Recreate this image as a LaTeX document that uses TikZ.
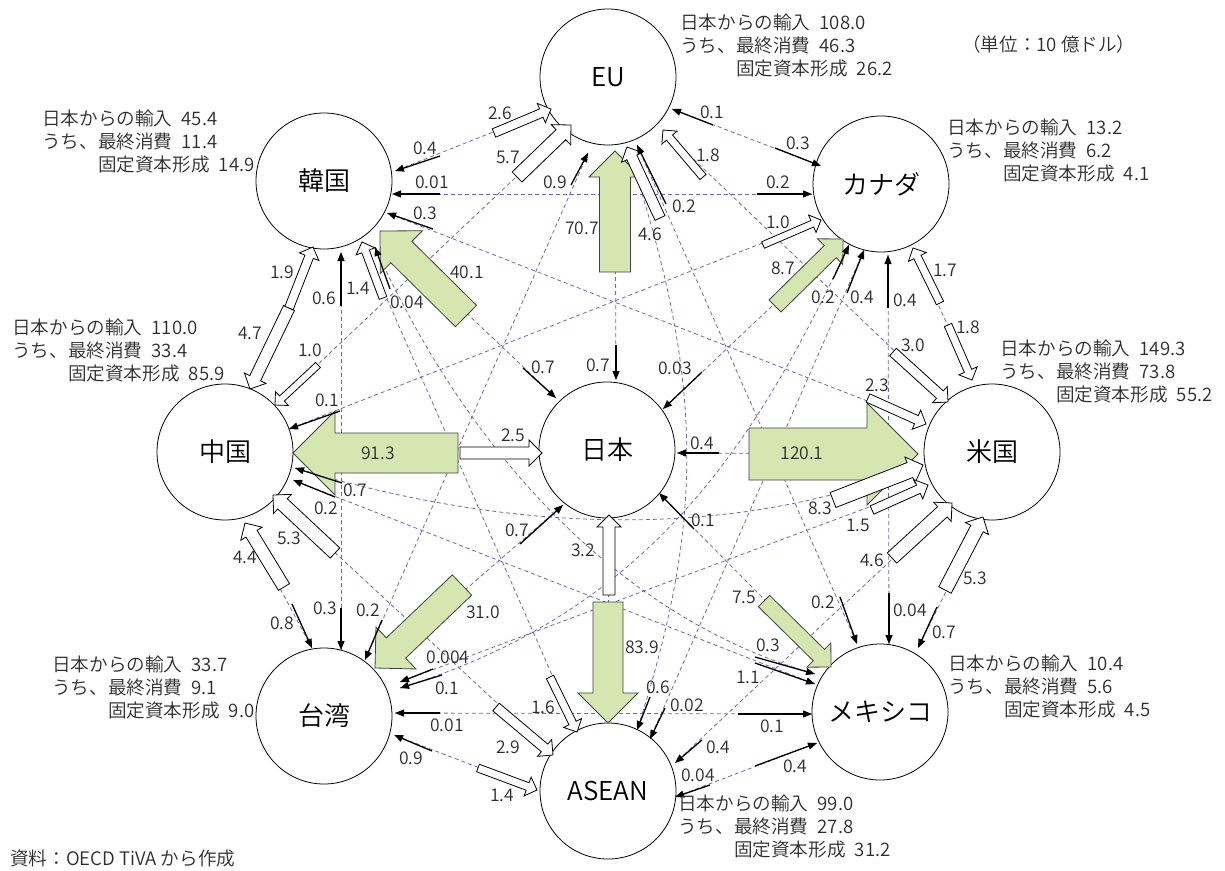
\documentclass[tikz,border=0pt]{standalone}
\usepackage{fontspec}
\IfFontExistsTF{Noto Sans CJK JP DemiLight}{\setmainfont{Noto Sans CJK JP DemiLight}}{\setmainfont{Noto Sans CJK JP}}
\usetikzlibrary{calc,arrows.meta,backgrounds}
\definecolor{dashblue}{RGB}{112,104,192}
\definecolor{gfill}{RGB}{214,230,176}
\definecolor{txt}{RGB}{45,45,45}
% block arrow: name, style, tail, tip, shaft half width, head half width (= head length)
\newcommand{\blockflow}[6]{%
  \coordinate (#1-s) at (#3);
  \coordinate (#1-e) at (#4);
  \coordinate (#1-h) at ($(#1-e)!#6pt!(#1-s)$);
  \draw[#2] ($(#1-s)!#5pt!90:(#1-e)$) -- ($(#1-h)!#5pt!90:(#1-e)$) -- ($(#1-h)!#6pt!90:(#1-e)$) -- (#1-e)
     -- ($(#1-h)!#6pt!-90:(#1-e)$) -- ($(#1-h)!#5pt!-90:(#1-e)$) -- ($(#1-s)!#5pt!-90:(#1-e)$) -- cycle;}
% thin arrow: name, tail, tip
\newcommand{\lineflow}[3]{%
  \coordinate (#1-s) at (#2);
  \coordinate (#1-e) at (#3);
  \draw[blk] (#1-s) -- (#1-e);}
\newcommand{\flowlabel}[3]{\node[lbl] (#1-l) at (#2) {#3};}
% info block: name, x, baseline y, v1, v2, v3
\newcommand{\infoblock}[6]{%
  \node[info] (#1-a) at (#2,#3) {日本からの輸入\hspace{0.5em}#4};
  \node[info] (#1-b) at (#2,#3+23) {うち、最終消費\hspace{0.5em}#5};
  \node[info] (#1-c) at (#2,#3+46) {\phantom{うち、}固定資本形成\hspace{0.5em}#6};}
\begin{document}
\begin{tikzpicture}[x=1pt,y=-1pt,
  cnode/.style={circle,draw=black,fill=white,line width=0.8pt,minimum size=136pt,inner sep=0pt,
    font=\fontsize{26}{30}\selectfont},
  dl/.style={draw=dashblue,line width=0.8pt,dash pattern=on 4pt off 3pt},
  blk/.style={draw=black,line width=1.3pt,-{Triangle[length=9pt,width=7pt]}},
  warr/.style={draw=black,fill=white,line width=0.8pt,line join=miter},
  garr/.style={draw=black!75,fill=gfill,line width=0.8pt,line join=miter},
  lbl/.style={font=\fontsize{17.5}{20}\selectfont,inner sep=0pt,text=txt},
  info/.style={font=\fontsize{18.6}{22}\selectfont,inner sep=0pt,anchor=base west,text=txt}]
\useasboundingbox (0,0) rectangle (1225,870);
\begin{pgfonlayer}{background}
\fill[white] (0,0) rectangle (1225,870);
\end{pgfonlayer}

% ---------------- country circles
\node[cnode] (EU) at (608,77) {EU};
\node[cnode] (CA) at (881,184) {カナダ};
\node[cnode] (US) at (992,452) {米国};
\node[cnode] (MX) at (880,712) {メキシコ};
\node[cnode] (AS) at (608,791) {ASEAN};
\node[cnode] (TW) at (324,716) {台湾};
\node[cnode] (CN) at (225,452) {中国};
\node[cnode] (KR) at (324,181) {韓国};
\node[cnode] (JP) at (607,450) {日本};

% ---------------- green arrows (from Japan)
\blockflow{jp2eu}{garr}{615,272}{615,151}{15.5}{26}
\blockflow{jp2kr}{garr}{466,316}{380,231}{15}{30}
\blockflow{jp2cn}{garr}{458,453}{293,453}{20}{42}
\blockflow{jp2tw}{garr}{462,585}{375,668}{14}{29}
\blockflow{jp2as}{garr}{608,602}{608,723}{15}{30}
\blockflow{jp2mx}{garr}{764,601}{831,667}{8}{17}
\blockflow{jp2us}{garr}{749,454}{918,454}{26}{51}
\blockflow{jp2ca}{garr}{775,306}{843,239}{8.5}{18}

% ---------------- white block arrows
\blockflow{kr2eu}{warr}{494,133}{551,109}{4.5}{10.5}
\blockflow{cn2eu}{warr}{517,177}{571,125}{7}{14}
\blockflow{as2eu}{warr}{660,218}{627,147}{5.5}{11.5}
\blockflow{us2eu}{warr}{703,177}{663,130}{4}{10}
\blockflow{cn2ca}{warr}{763,245}{821,220}{3.5}{9.5}
\blockflow{us2ca}{warr}{940,303}{913,248}{4}{10}
\blockflow{ca2us}{warr}{948,325}{972,380}{4}{10}
\blockflow{eu2us}{warr}{893,352}{948,402}{5}{11}
\blockflow{kr2us}{warr}{868,398}{926,424}{4.5}{10.5}
\blockflow{cn2us}{warr}{833,500}{923,465}{8}{14}
\blockflow{tw2us}{warr}{872,510}{928,485}{4.5}{10.5}
\blockflow{as2us}{warr}{892,558}{952,503}{7}{13}
\blockflow{mx2us}{warr}{945,590}{983,517}{7}{13}
\blockflow{kr2as}{warr}{550,677}{577,732}{4}{10}
\blockflow{cn2as}{warr}{496,707}{553,755}{5}{11}
\blockflow{tw2as}{warr}{478,768}{537,790}{4}{10}
\blockflow{kr2cn}{warr}{289,308}{250,389}{6}{12}
\blockflow{eu2cn}{warr}{318,365}{275,405}{3.5}{9.5}
\blockflow{as2cn}{warr}{335,553}{273,495}{7}{13}
\blockflow{tw2cn}{warr}{284,587}{245,523}{6.5}{12.5}
\blockflow{as2kr}{warr}{383,298}{362,242}{4}{10}
\blockflow{cn2kr}{warr}{289,308}{313,247}{4.5}{10.5}
\blockflow{as2jp}{warr}{609,595}{609,515}{6}{12}
\blockflow{cn2jp}{warr}{460,453}{542,453}{6}{13}

% ---------------- thin arrows
\lineflow{tw2eu}{571,185}{588,153}
\lineflow{mx2eu}{666,204}{637,145}
\lineflow{ca2eu}{713,125}{672,109}
\lineflow{eu2kr}{440,156}{395,171}
\lineflow{ca2kr}{440,194}{392,194}
\lineflow{us2kr}{433,229}{387,213}
\lineflow{mx2kr}{390,289}{375,247}
\lineflow{tw2kr}{341,306}{341,252}
\lineflow{eu2ca}{775,148}{821,166}
\lineflow{kr2ca}{757,194}{812,194}
\lineflow{tw2ca}{833,279}{849,245}
\lineflow{as2ca}{847,293}{864,250}
\lineflow{mx2ca}{888,308}{888,255}
\lineflow{eu2jp}{616,345}{616,380}
\lineflow{kr2jp}{523,368}{556,398}
\lineflow{ca2jp}{702,372}{663,409}
\lineflow{us2jp}{719,453}{677,453}
\lineflow{mx2jp}{694,529}{659,493}
\lineflow{tw2jp}{520,544}{563,505}
\lineflow{ca2cn}{340,411}{289,429}
\lineflow{us2cn}{342,483}{295,468}
\lineflow{mx2cn}{335,497}{293,480}
\lineflow{cn2tw}{292,604}{312,648}
\lineflow{kr2tw}{341,608}{341,650}
\lineflow{eu2tw}{382,620}{365,660}
\lineflow{us2tw}{433,669}{400,682}
\lineflow{ca2tw}{442,675}{400,688}
\lineflow{mx2tw}{440,713}{395,713}
\lineflow{as2tw}{432,751}{394,735}
\lineflow{eu2as}{650,697}{637,730}
\lineflow{ca2as}{665,708}{650,739}
\lineflow{us2as}{702,740}{675,763}
\lineflow{mx2as}{710,785}{675,797}
\lineflow{kr2mx}{755,657}{815,674}
\lineflow{cn2mx}{755,663}{815,684}
\lineflow{tw2mx}{738,714}{812,714}
\lineflow{as2mx}{755,766}{817,743}
\lineflow{eu2mx}{840,597}{857,644}
\lineflow{ca2mx}{889,593}{889,644}
\lineflow{us2mx}{937,607}{918,648}

% ---------------- dashed links (background)
\begin{pgfonlayer}{background}
\draw[dl] (ca2eu-e) -- (eu2ca-e);
\draw[dl] (us2eu-e) -- (eu2us-e);
\draw[dl] (mx2eu-e) -- (eu2mx-e);
\draw[dl] (as2eu-e) .. controls (705,380) and (705,520) .. (eu2as-e);
\draw[dl] (tw2eu-e) -- (eu2tw-e);
\draw[dl] (cn2eu-e) -- (eu2cn-e);
\draw[dl] (kr2eu-e) -- (eu2kr-e);
\draw[dl] (jp2eu-e) -- (eu2jp-e);
\draw[dl] (us2ca-e) -- (ca2us-e);
\draw[dl] (mx2ca-e) -- (ca2mx-e);
\draw[dl] (as2ca-e) -- (ca2as-e);
\draw[dl] (tw2ca-e) .. controls (755,445) and (650,611) .. (ca2tw-e);
\draw[dl] (cn2ca-e) -- (ca2cn-e);
\draw[dl] (kr2ca-e) -- (ca2kr-e);
\draw[dl] (jp2ca-e) -- (ca2jp-e);
\draw[dl] (mx2us-e) -- (us2mx-e);
\draw[dl] (as2us-e) -- (us2as-e);
\draw[dl] (tw2us-e) -- (us2tw-e);
\draw[dl] (cn2us-e) .. controls (723,545) and (500,530) .. (us2cn-e);
\draw[dl] (kr2us-e) -- (us2kr-e);
\draw[dl] (jp2us-e) -- (us2jp-e);
\draw[dl] (as2mx-e) -- (mx2as-e);
\draw[dl] (tw2mx-e) -- (mx2tw-e);
\draw[dl] (cn2mx-e) -- (mx2cn-e);
\draw[dl] (kr2mx-e) .. controls (615,617) and (465,447) .. (mx2kr-e);
\draw[dl] (jp2mx-e) -- (mx2jp-e);
\draw[dl] (tw2as-e) -- (as2tw-e);
\draw[dl] (cn2as-e) -- (as2cn-e);
\draw[dl] (kr2as-e) -- (as2kr-e);
\draw[dl] (jp2as-e) -- (as2jp-e);
\draw[dl] (cn2tw-e) -- (tw2cn-e);
\draw[dl] (kr2tw-e) -- (tw2kr-e);
\draw[dl] (jp2tw-e) -- (tw2jp-e);
\draw[dl] (jp2cn-e) -- (cn2jp-e);
\draw[dl] (jp2kr-e) -- (kr2jp-e);
\end{pgfonlayer}

% ---------------- value labels
\flowlabel{kr2eu}{500,113}{2.6}
\flowlabel{cn2eu}{508,157}{5.7}
\flowlabel{tw2eu}{555,182}{0.9}
\flowlabel{jp2eu}{582,228}{70.7}
\flowlabel{as2eu}{650,234}{4.6}
\flowlabel{mx2eu}{684,206}{0.2}
\flowlabel{us2eu}{708,155}{1.8}
\flowlabel{ca2eu}{712,112}{0.1}
\flowlabel{eu2ca}{798,143}{0.3}
\flowlabel{kr2ca}{778,182}{0.2}
\flowlabel{cn2ca}{778,222}{1.0}
\flowlabel{jp2ca}{783,268}{8.7}
\flowlabel{tw2ca}{823,297}{0.2}
\flowlabel{as2ca}{862,297}{0.4}
\flowlabel{mx2ca}{905,300}{0.4}
\flowlabel{us2ca}{945,270}{1.7}
\flowlabel{ca2us}{968,327}{1.8}
\flowlabel{eu2us}{913,345}{3.0}
\flowlabel{kr2us}{877,385}{2.3}
\flowlabel{jp2us}{802,453}{120.1}
\flowlabel{cn2us}{820,508}{8.3}
\flowlabel{tw2us}{858,525}{1.5}
\flowlabel{as2us}{872,560}{4.6}
\flowlabel{mx2us}{975,578}{5.3}
\flowlabel{eu2mx}{823,602}{0.2}
\flowlabel{ca2mx}{910,610}{0.04}
\flowlabel{us2mx}{944,632}{0.7}
\flowlabel{jp2mx}{744,597}{7.5}
\flowlabel{kr2mx}{768,645}{0.3}
\flowlabel{cn2mx}{748,677}{1.1}
\flowlabel{tw2mx}{772,726}{0.1}
\flowlabel{as2mx}{795,766}{0.4}
\flowlabel{jp2as}{642,647}{83.9}
\flowlabel{eu2as}{658,687}{0.6}
\flowlabel{ca2as}{687,705}{0.02}
\flowlabel{us2as}{718,747}{0.4}
\flowlabel{mx2as}{698,775}{0.04}
\flowlabel{kr2as}{543,707}{1.6}
\flowlabel{cn2as}{508,747}{2.9}
\flowlabel{tw2as}{502,795}{1.4}
\flowlabel{cn2tw}{282,623}{0.8}
\flowlabel{kr2tw}{325,608}{0.3}
\flowlabel{eu2tw}{368,610}{0.2}
\flowlabel{jp2tw}{483,612}{31.0}
\flowlabel{us2tw}{448,657}{0.004}
\flowlabel{ca2tw}{447,688}{0.1}
\flowlabel{mx2tw}{447,725}{0.01}
\flowlabel{as2tw}{411,758}{0.9}
\flowlabel{kr2cn}{250,333}{4.7}
\flowlabel{eu2cn}{310,350}{1.0}
\flowlabel{ca2cn}{327,400}{0.1}
\flowlabel{jp2cn}{378,453}{91.3}
\flowlabel{us2cn}{355,490}{0.7}
\flowlabel{mx2cn}{326,508}{0.2}
\flowlabel{as2cn}{289,538}{5.3}
\flowlabel{tw2cn}{245,557}{4.4}
\flowlabel{eu2kr}{425,148}{0.4}
\flowlabel{ca2kr}{432,182}{0.01}
\flowlabel{us2kr}{425,213}{0.3}
\flowlabel{jp2kr}{467,272}{40.1}
\flowlabel{mx2kr}{407,302}{0.04}
\flowlabel{as2kr}{358,288}{1.4}
\flowlabel{tw2kr}{324,298}{0.6}
\flowlabel{cn2kr}{282,272}{1.9}
\flowlabel{eu2jp}{598,365}{0.7}
\flowlabel{ca2jp}{675,368}{0.03}
\flowlabel{us2jp}{702,443}{0.4}
\flowlabel{mx2jp}{703,520}{0.1}
\flowlabel{as2jp}{583,550}{3.2}
\flowlabel{tw2jp}{517,530}{0.7}
\flowlabel{cn2jp}{513,435}{2.5}
\flowlabel{kr2jp}{543,367}{0.7}

% ---------------- info blocks
\infoblock{ieu}{680}{29}{108.0}{46.3}{26.2}
\infoblock{ikr}{42}{125}{45.4}{11.4}{14.9}
\infoblock{icn}{12}{334}{110.0}{33.4}{85.9}
\infoblock{ica}{947}{134}{13.2}{6.2}{4.1}
\infoblock{ius}{1000}{355}{149.3}{73.8}{55.2}
\infoblock{imx}{948}{670}{10.4}{5.6}{4.5}
\infoblock{ias}{678}{810}{99.0}{27.8}{31.2}
\infoblock{itw}{52}{671}{33.7}{9.1}{9.0}
\node[info] (unit) at (962,51) {（単位：10 億ドル）};
\node[info] (src) at (10,865) {資料：OECD TiVA から作成};
\end{tikzpicture}
\end{document}
